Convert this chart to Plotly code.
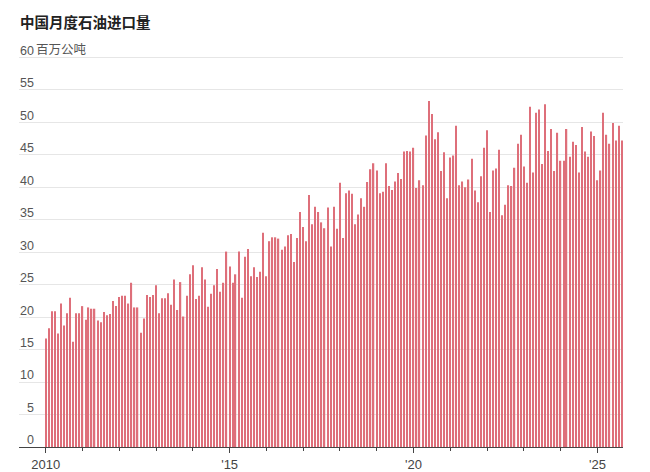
import pandas as pd
import plotly.graph_objects as go

# 中国月度原油进口量, 百万公吨
imports_2010 = [16.7, 18.3, 20.9, 20.9, 17.5, 22.1, 18.7, 20.6, 23.0, 16.2, 20.6, 20.6]
imports_2011 = [21.7, 19.6, 21.5, 21.3, 21.3, 19.5, 19.2, 20.8, 20.3, 20.5, 22.5, 21.7]
imports_2012 = [23.1, 23.3, 23.3, 22.1, 25.3, 21.5, 21.5, 17.6, 19.8, 23.4, 23.1, 23.4]
imports_2013 = [24.9, 20.6, 22.9, 22.9, 23.7, 21.9, 25.8, 21.1, 25.4, 20.1, 23.3, 26.6]
imports_2014 = [28.0, 22.8, 23.3, 27.7, 25.8, 21.6, 23.6, 24.9, 27.4, 23.9, 25.3, 30.1]
imports_2015 = [27.8, 25.3, 26.6, 30.1, 23.0, 29.3, 30.5, 26.3, 27.7, 26.2, 27.0, 33.0]
imports_2016 = [26.3, 31.7, 32.3, 32.3, 32.1, 30.4, 30.9, 32.6, 32.8, 28.5, 32.2, 36.2]
imports_2017 = [33.9, 31.7, 38.8, 34.3, 37.0, 36.2, 34.6, 33.7, 36.9, 30.9, 37.0, 33.6]
imports_2018 = [40.7, 32.2, 39.1, 39.5, 39.0, 34.3, 35.8, 38.3, 37.0, 40.8, 42.8, 43.7]
imports_2019 = [42.6, 39.1, 39.3, 43.7, 40.2, 39.6, 40.9, 42.2, 41.3, 45.5, 45.6, 45.5]
imports_2020 = [46.1, 39.9, 41.1, 40.3, 48.0, 53.3, 51.3, 47.4, 48.5, 42.5, 45.4, 38.3]
imports_2021 = [44.6, 44.9, 49.5, 40.3, 40.9, 40.0, 41.2, 44.4, 39.5, 37.7, 41.7, 46.1]
imports_2022 = [48.8, 36.2, 42.6, 42.9, 45.8, 35.7, 37.3, 40.3, 40.2, 43.0, 46.7, 48.1]
imports_2023 = [43.2, 40.7, 52.4, 42.3, 51.5, 52.0, 43.6, 52.8, 45.6, 49.0, 42.5, 48.4]
imports_2024 = [44.1, 44.1, 49.0, 44.7, 47.0, 46.5, 42.3, 49.3, 45.5, 44.7, 48.6, 47.9]
imports_2025 = [41.1, 42.6, 51.5, 48.1, 46.7, 49.9, 47.2, 49.5, 47.2]

values = (imports_2010 + imports_2011 + imports_2012 + imports_2013 + imports_2014
          + imports_2015 + imports_2016 + imports_2017 + imports_2018 + imports_2019
          + imports_2020 + imports_2021 + imports_2022 + imports_2023 + imports_2024
          + imports_2025)
months = pd.date_range("2010-01-01", periods=len(values), freq="MS")

# axis labels
x_tick_dates = ["2010-01-01", "2015-01-01", "2020-01-01", "2025-01-01"]
x_tick_text = ["2010", "'15", "'20", "'25"]
y_tick_vals = list(range(0, 61, 5))
y_tick_text = [str(v) for v in y_tick_vals]
y_unit = "百万公吨"

fig = go.Figure()

fig.add_trace(go.Bar(
    x=months,
    y=values,
    marker=dict(color="#de6f7a", line=dict(width=0)),
    hovertemplate="%{x|%Y-%m}: %{y}<extra></extra>",
))

# unit text next to the top tick label
fig.add_annotation(
    text=y_unit,
    xref="paper", x=(34 - 19) / 604, xanchor="left",
    yref="y", y=y_tick_vals[-1], yanchor="middle", yshift=7,
    showarrow=False,
    font=dict(size=12.5, color="#555"),
)

fig.update_layout(
    width=650,
    height=472,
    margin=dict(l=19, r=27, t=38, b=25),
    paper_bgcolor="white",
    plot_bgcolor="white",
    bargap=0.55,
    showlegend=False,
    font=dict(family="Liberation Sans, Noto Sans CJK SC, sans-serif", color="#555"),
    title=dict(
        text="<b>中国月度石油进口量</b>",
        x=20 / 650, xanchor="left",
        y=1 - 23 / 472, yanchor="middle",
        font=dict(size=14.5, color="#222", family="Noto Sans CJK SC, sans-serif"),
    ),
    xaxis=dict(
        type="date",
        range=["2009-04-10", "2025-09-12"],
        tickvals=x_tick_dates,
        ticktext=x_tick_text,
        ticks="outside",
        ticklen=5,
        tickcolor="#444",
        showgrid=False,
        showline=True,
        linecolor="#444",
        linewidth=1,
        automargin=False,
        tickfont=dict(size=13, color="#444"),
        minor=dict(dtick="M12", tick0="2010-01-01", ticks="outside",
                   ticklen=3, tickcolor="#444", showgrid=False),
    ),
    yaxis=dict(
        range=[0, 63],
        tickvals=y_tick_vals,
        ticktext=y_tick_text,
        ticklabelposition="outside",
        ticklabelshift=-7,
        ticklabelstandoff=-16,
        ticks="",
        showgrid=True,
        gridcolor="#e6e6e6",
        gridwidth=1,
        zeroline=False,
        automargin=False,
        tickfont=dict(size=12.5, color="#555"),
    ),
)

fig.write_html("out.html", config={"displayModeBar": False},
               post_script="document.body.style.margin='0';")
